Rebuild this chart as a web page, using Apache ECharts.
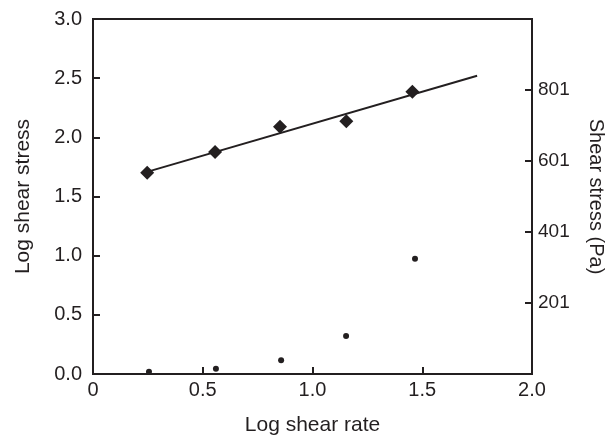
<!DOCTYPE html>
<html>
<head>
<meta charset="utf-8">
<script src="https://cdn.jsdelivr.net/npm/echarts@6/dist/echarts.min.js"></script>
<style>html,body{margin:0;padding:0;background:#fff}#c{width:613px;height:438px}</style>
</head>
<body>
<div id="c"></div>
<script>
const logRate = [0.247, 0.556, 0.852, 1.154, 1.455];
const logStress = [1.70, 1.877, 2.09, 2.136, 2.386];
const dotRate = [0.255, 0.56, 0.857, 1.153, 1.467];
const stressPa = [7, 16, 40, 108, 326];
const trendX = [0.25, 1.75];
const trendY = [1.71, 2.52];
const rightTicks = [201, 401, 601, 801];

const ink = '#231f20';
const font = "'Liberation Sans', Arial, Helvetica, sans-serif";

const chart = echarts.init(document.getElementById('c'), null, {renderer: 'canvas'});
chart.setOption({
  animation: false,
  backgroundColor: '#fff',
  grid: {left: 93, right: 81, top: 19, bottom: 64, containLabel: false, outerBoundsMode: 'none',
    show: true, borderColor: ink, borderWidth: 2, backgroundColor: 'transparent'},
  xAxis: {
    type: 'value', min: 0, max: 2, interval: 0.5,
    name: 'Log shear rate', nameLocation: 'middle', nameGap: 41,
    nameTextStyle: {color: ink, fontSize: 21, fontFamily: font},
    axisLine: {show: true, lineStyle: {color: ink, width: 2}},
    axisTick: {show: true, inside: true, length: 7, lineStyle: {color: ink, width: 2}},
    axisLabel: {color: ink, fontSize: 20, fontFamily: font, margin: 6,
      formatter: v => v === 0 ? '0' : v.toFixed(1)},
    splitLine: {show: false}
  },
  yAxis: [{
    type: 'value', min: 0, max: 3, interval: 0.5, position: 'left',
    name: 'Log shear stress', nameLocation: 'middle', nameGap: 59,
    nameTextStyle: {color: ink, fontSize: 21, fontFamily: font},
    axisLine: {show: true, lineStyle: {color: ink, width: 2}},
    axisTick: {show: true, inside: true, length: 7, lineStyle: {color: ink, width: 2}},
    axisLabel: {color: ink, fontSize: 20, fontFamily: font, margin: 11,
      formatter: v => v.toFixed(1)},
    splitLine: {show: false}
  }, {
    type: 'value', min: 1, max: 1001, position: 'right',
    name: 'Shear stress (Pa)', nameLocation: 'middle', nameGap: 54, nameRotate: -90,
    nameTextStyle: {color: ink, fontSize: 20, fontFamily: font},
    axisLine: {show: true, lineStyle: {color: ink, width: 2}},
    axisTick: {show: true, inside: true, length: 7, customValues: rightTicks, lineStyle: {color: ink, width: 2}},
    axisLabel: {color: ink, fontSize: 19, fontFamily: font, margin: 6, customValues: rightTicks},
    splitLine: {show: false}
  }],
  series: [{
    type: 'line', data: trendX.map((x, i) => [x, trendY[i]]),
    symbol: 'none', lineStyle: {color: ink, width: 2}, z: 1, silent: true
  }, {
    type: 'scatter', data: logRate.map((x, i) => [x, logStress[i]]),
    symbol: 'diamond', symbolSize: 14, itemStyle: {color: ink, opacity: 1}, z: 2
  }, {
    type: 'scatter', yAxisIndex: 1, data: dotRate.map((x, i) => [x, stressPa[i]]),
    symbol: 'circle', symbolSize: 6, itemStyle: {color: ink, opacity: 1}, z: 2
  }]
});
</script>
</body>
</html>
